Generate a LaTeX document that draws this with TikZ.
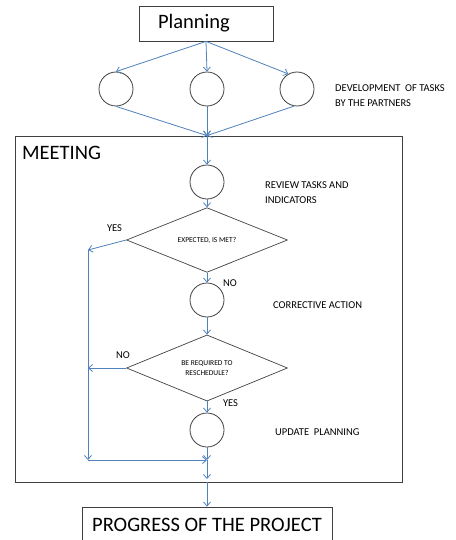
\documentclass[tikz,border=0pt]{standalone}
\usepackage{fontspec}
\setmainfont{Carlito}
\usetikzlibrary{shapes.geometric,arrows.meta,positioning}
\definecolor{flowblue}{RGB}{79,129,189}
\definecolor{edgegray}{RGB}{64,64,64}
\tikzset{
  task/.style={circle,draw=edgegray,minimum size=34pt,inner sep=0pt,line width=0.8pt},
  decide/.style={diamond,draw=edgegray,inner sep=0pt,line width=0.7pt,align=center,
    font=\fontsize{7.5}{10}\selectfont},
  flow/.style={draw=flowblue,line width=0.8pt,-{Straight Barb[length=4pt,width=7pt]}},
  note/.style={anchor=west,inner sep=0pt,align=left,font=\fontsize{10.5}{15}\selectfont},
  answer/.style={inner sep=0pt,font=\fontsize{10.5}{12}\selectfont},
  titlebox/.style={rectangle,draw=edgegray,line width=0.8pt,font=\fontsize{20.5}{24}\selectfont}
}

\begin{document}
\begin{tikzpicture}[x=1pt,y=-1pt]
	\useasboundingbox (0,0) rectangle (455,540);
	% meeting frame
	\node (meet) [draw=edgegray,line width=0.8pt,minimum width=387pt,minimum height=346pt,inner sep=0pt] at (208.5,309) {};
	\node (meettitle) [anchor=west,inner sep=0pt,font=\fontsize{20.5}{24}\selectfont] at (22,153) {MEETING};
	% boxes
	\node (plan) [titlebox,inner xsep=19pt,text width=96pt,align=left,minimum height=35pt] at (206,23.5) {Planning};
	\node (prog) [titlebox,minimum width=250pt,minimum height=35pt] at (207,524.5) {PROGRESS OF THE PROJECT};
	% tasks
	\node (t1) [task] at (116,89) {};
	\node (t2) [task] at (207,89) {};
	\node (t3) [task] at (297,89) {};
	\node (review) [task] at (207,182) {};
	\node (correct) [task] at (207,300) {};
	\node (update) [task] at (207,430) {};
	% decisions
	\node (met) [decide,minimum width=161pt,minimum height=33pt] at (207,240) {EXPECTED, IS MET?};
	\node (resched) [decide,minimum width=161pt,minimum height=54pt] at (207,368) {BE REQUIRED TO\\RESCHEDULE?};
	% notes
	\node (devnote) [note] at (335,95.5) {DEVELOPMENT\ \ OF TASKS\\BY THE PARTNERS};
	\node (revnote) [note] at (265,192.5) {REVIEW TASKS AND\\INDICATORS};
	\node (corrnote) [note] at (273,305) {CORRECTIVE ACTION};
	\node (updnote) [note] at (275,432) {UPDATE\ \ PLANNING};
	\node (yesmet) [answer] at (114.5,228) {YES};
	\node (nomet) [answer] at (230,283) {NO};
	\node (noresched) [answer] at (123,355) {NO};
	\node (yesresched) [answer] at (230.5,403) {YES};
	% junctions
	\coordinate (m) at (t2 |- meet.north);
	\coordinate (y1) at (88,250);
	\coordinate (n2) at (88,368);
	\coordinate (lj) at (88,460);
	\coordinate (j) at (207,460);
	\coordinate (mb) at (207,479);
	\coordinate (out) at (prog.north |- meet.south);
	% connectors
	\draw[flow] (plan.south) -- (t1.north);
	\draw[flow] (plan.south) -- (t2.north);
	\draw[flow] (plan.south) -- (t3.120);
	\draw[flow] (t1.south) -- (m);
	\draw[flow] (t2.south) -- (m);
	\draw[flow] (t3.260) -- (m);
	\draw[flow] (m) -- (review.north);
	\draw[flow] (review.south) -- (met.north);
	\draw[flow] (met.west) -- (y1);
	\draw[flow] (y1) -- (lj);
	\draw[flow] (lj) -- (j);
	\draw[flow] (met.south) -- (correct.north);
	\draw[flow] (correct.south) -- (resched.north);
	\draw[flow] (resched.west) -- (n2);
	\draw[flow] (resched.south) -- (update.north);
	\draw[flow] (update.south) -- (j);
	\draw[flow] (j) -- (mb);
	\draw[flow] (out) -- (prog.north);
\end{tikzpicture}
\end{document}
